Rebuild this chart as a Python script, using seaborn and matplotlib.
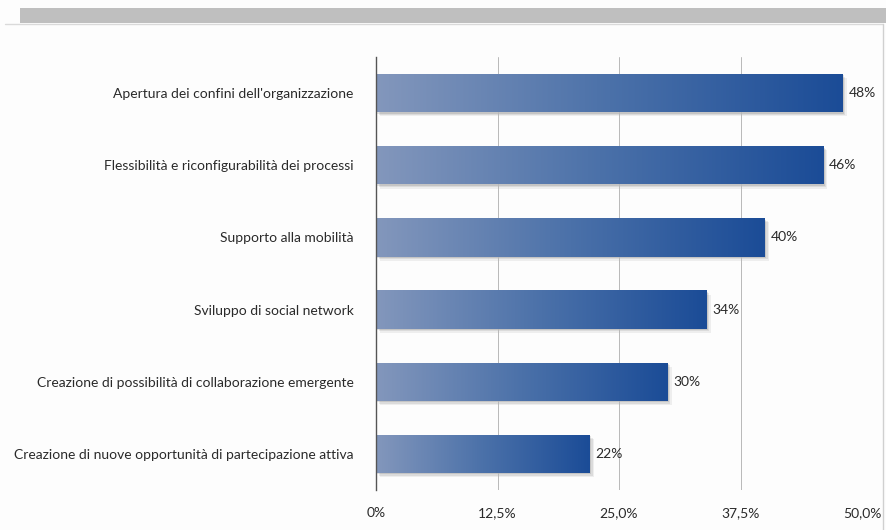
import numpy as np
import pandas as pd
import matplotlib
matplotlib.use("Agg")
import matplotlib.pyplot as plt
import matplotlib.patheffects as pe
from matplotlib.patches import Rectangle
from matplotlib.lines import Line2D
from matplotlib.colors import LinearSegmentedColormap
import seaborn as sns

# --- dati ---
labels = [
    "Apertura dei confini dell'organizzazione",
    "Flessibilità e riconfigurabilità dei processi",
    "Supporto alla mobilità",
    "Sviluppo di social network",
    "Creazione di possibilità di collaborazione emergente",
    "Creazione di nuove opportunità di partecipazione attiva",
]
values = [48, 46, 40, 34, 30, 22]
tick_values = [0, 12.5, 25.0, 37.5, 50.0]
tick_labels = ["0%", "12,5%", "25,0%", "37,5%", "50,0%"]

df = pd.DataFrame({"voce": labels, "valore": values})

sns.set_style("white")
plt.rcParams["font.family"] = ["Lato", "DejaVu Sans"]

fig = plt.figure(figsize=(8.86, 5.30), dpi=100, facecolor="#fdfdfd")
ax = fig.add_axes([376 / 886, 1 - 490 / 530, (862 - 376) / 886, (490 - 57) / 530])
ax.set_facecolor("#fdfdfd")

sns.barplot(data=df, x="valore", y="voce", orient="h", width=0.53,
            color="#1d4f98", ax=ax, zorder=2)

# gradiente orizzontale dentro ogni barra + ombra morbida
cmap = LinearSegmentedColormap.from_list("blu", ["#8397bc", "#4b71a9", "#1b4c97"])
grad = np.linspace(0, 1, 256).reshape(1, -1)
for p in ax.patches:
    x0, y0, w, h = p.get_x(), p.get_y(), p.get_width(), p.get_height()
    p.set_facecolor("none")
    p.set_edgecolor("none")
    p.set_path_effects([
        pe.SimplePatchShadow(offset=(3, -3), shadow_rgbFace="#000000", alpha=0.06),
        pe.SimplePatchShadow(offset=(2, -2), shadow_rgbFace="#000000", alpha=0.08),
        pe.SimplePatchShadow(offset=(1, -1), shadow_rgbFace="#000000", alpha=0.10),
    ])
    im = ax.imshow(grad, extent=[x0, x0 + w, y0 + h, y0], cmap=cmap,
                   aspect="auto", zorder=3, interpolation="bicubic")
    im.set_clip_path(p)
    ax.text(x0 + w + 0.6, y0 + h / 2, f"{int(round(w))}%", va="center", ha="left",
            fontsize=10, color="#2a2a2a")

ax.set_xlim(0, 50)
ax.set_ylim(5.5, -0.5)
ax.set_xticks(tick_values)
ax.set_xticklabels(tick_labels, fontsize=10, color="#2a2a2a")
ax.set_xlabel("")
ax.set_ylabel("")
ax.tick_params(axis="y", length=0, pad=16, labelsize=10, labelcolor="#2a2a2a")
ax.tick_params(axis="x", length=5, width=0.8, color="#999999", pad=7, direction="out")

ax.grid(axis="x", color="#b8b8b8", linewidth=0.7, zorder=4)
ax.set_axisbelow(False)
for s in ["top", "right", "bottom"]:
    ax.spines[s].set_visible(False)
ax.spines["left"].set_color("#555555")
ax.spines["left"].set_linewidth(1.0)
ax.spines["left"].set_zorder(5)

# cornice grigia in alto e bordo destro
fig.add_artist(Rectangle((20 / 886, 1 - 23 / 530), 1, 15 / 530,
                         transform=fig.transFigure, color="#bfbfbf", lw=0))
fig.add_artist(Line2D([5 / 886, 883 / 886], [1 - 23.5 / 530, 1 - 23.5 / 530],
                      transform=fig.transFigure, color="#dadada", lw=1))
fig.add_artist(Line2D([883 / 886, 883 / 886], [0, 1 - 23.5 / 530],
                      transform=fig.transFigure, color="#d0d0d0", lw=1))

fig.savefig("out.png", dpi=100, facecolor=fig.get_facecolor())
